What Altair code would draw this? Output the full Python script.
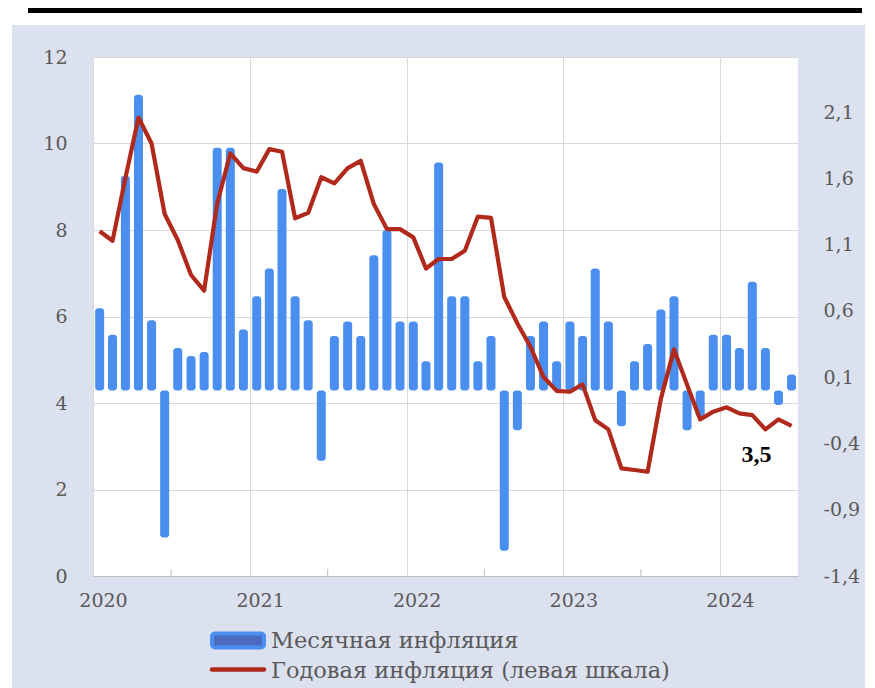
import altair as alt
import pandas as pd

# ---------------- data ----------------
years = [2020, 2021, 2022, 2023, 2024]

# monthly inflation, % m/m (right axis), Jan 2020 .. Jun 2024
monthly = [0.62, 0.42, 1.62, 2.23, 0.53, -1.11, 0.32, 0.26, 0.29, 1.83, 1.83, 0.46,
           0.71, 0.92, 1.52, 0.71, 0.53, -0.53, 0.41, 0.52, 0.41, 1.02, 1.21, 0.52,
           0.52, 0.22, 1.72, 0.71, 0.71, 0.22, 0.41, -1.21, -0.30, 0.41, 0.52, 0.22,
           0.52, 0.41, 0.92, 0.52, -0.27, 0.22, 0.35, 0.61, 0.71, -0.30, -0.20, 0.42,
           0.42, 0.32, 0.82, 0.32, -0.11, 0.12]

# annual inflation, % y/y (left axis)
annual = [7.97, 7.75, 9.2, 10.6, 10.0, 8.37, 7.77, 6.96, 6.6, 8.62, 9.77, 9.43,
          9.35, 9.87, 9.81, 8.27, 8.4, 9.22, 9.08, 9.43, 9.6, 8.6, 8.02, 8.02,
          7.83, 7.11, 7.33, 7.33, 7.52, 8.31, 8.28, 6.45, 5.84, 5.3, 4.6, 4.28,
          4.26, 4.43, 3.6, 3.39, 2.49, 2.45, 2.41, 4.1, 5.24, 4.42, 3.62, 3.8,
          3.9, 3.76, 3.72, 3.39, 3.62, 3.47]

legend_labels = ["Месячная инфляция", "Годовая инфляция (левая шкала)"]
left_ticks = [0, 2, 4, 6, 8, 10, 12]
right_ticks = [-1.4, -0.9, -0.4, 0.1, 0.6, 1.1, 1.6, 2.1]
left_domain = [0, 12]
right_domain = [-1.4, 2.515]

# ---------------- build tables ----------------
def ms(ts):
    return int(pd.Timestamp(ts).value // 10**6)

starts = pd.date_range("2020-01-01", periods=len(monthly) + 1, freq="MS", tz="UTC")
centers = starts[:-1] + (starts[1:] - starts[:-1]) / 2
df = pd.DataFrame({"t": [ms(c) for c in centers], "m": monthly, "a": annual})
last = df.tail(1).copy()
last["lbl"] = [f"{v:.1f}".replace(".", ",") for v in last["a"]]

year_starts = [ms(pd.Timestamp(f"{y}-01-01", tz="UTC")) for y in years]
mid_years = pd.DataFrame({"t": [ms(pd.Timestamp(f"{y}-07-01", tz="UTC")) for y in years[:-1]]})
x_domain = [ms(starts[0]), ms(pd.Timestamp("2024-07-01", tz="UTC"))]

AX_FONT = "DejaVu Serif"
GREY = "#595959"
GRID = "#d9d9d9"
BAR = "#4a8eef"
RED = "#b0291a"

x_scale = alt.Scale(type="utc", domain=x_domain, nice=False, padding=0)
x_axis = alt.Axis(values=year_starts, labelExpr="utcFormat(datum.value, '%Y')",
                  grid=True, gridColor=GRID, ticks=False, domainColor="#bfbfbf",
                  labelFlush=False, labelOverlap=False, labelOffset=10, labelPadding=15,
                  labelFont=AX_FONT, labelFontSize=19, labelColor=GREY, title=None)
x_enc = alt.X("t:T", scale=x_scale, axis=x_axis)

left_axis = alt.Axis(orient="left", values=left_ticks, grid=True, gridColor=GRID,
                     ticks=False, domain=False, labelPadding=26, labelFont=AX_FONT,
                     labelFontSize=19, labelColor=GREY, title=None)
right_axis = alt.Axis(orient="right", values=right_ticks, grid=False, ticks=False,
                      domain=False, labelPadding=25, labelFont=AX_FONT, labelFontSize=19,
                      labelColor=GREY, title=None,
                      labelExpr="replace(toString(datum.value), '.', ',')")

bars = alt.Chart(df).mark_bar(size=9, cornerRadius=3, color=BAR).encode(
    x=x_enc,
    y=alt.Y("m:Q", scale=alt.Scale(domain=right_domain, nice=False, zero=False), axis=right_axis),
    y2=alt.datum(0),
)

line = alt.Chart(df).mark_line(color=RED, strokeWidth=4.2, strokeJoin="round").encode(
    x=x_enc,
    y=alt.Y("a:Q", scale=alt.Scale(domain=left_domain, nice=False), axis=left_axis),
)
note = alt.Chart(last).mark_text(font="Liberation Serif", fontSize=24, fontWeight="bold",
                                 color="black", dx=-35, dy=36, align="center",
                                 baseline="alphabetic").encode(
    x=x_enc,
    y=alt.Y("a:Q", scale=alt.Scale(domain=left_domain, nice=False), axis=left_axis),
    text="lbl:N",
)
line_group = alt.layer(line, note)

# small inward ticks at mid-year on the x axis
mid_ticks = alt.Chart(mid_years).mark_rule(color="#bfbfbf", strokeWidth=1).encode(
    x=x_enc,
    y=alt.value(512), y2=alt.value(519),
)

one = pd.DataFrame({"k": [0]})
# page frame decorations (white margin strips and black top rule)
top_strip = alt.Chart(one).mark_rect(color="white").encode(
    x=alt.value(-85), x2=alt.value(774), y=alt.value(-49), y2=alt.value(-32))
left_strip = alt.Chart(one).mark_rect(color="white").encode(
    x=alt.value(-85), x2=alt.value(-81), y=alt.value(-49), y2=alt.value(631))
right_strip = alt.Chart(one).mark_rect(color="white").encode(
    x=alt.value(772), x2=alt.value(774), y=alt.value(-49), y2=alt.value(631))
top_rule = alt.Chart(one).mark_rect(color="black").encode(
    x=alt.value(-65), x2=alt.value(769), y=alt.value(-49), y2=alt.value(-44))

# legend
leg1 = pd.DataFrame({"label": [legend_labels[0]]})
leg2 = pd.DataFrame({"label": [legend_labels[1]]})
leg_sym1 = alt.Chart(leg1).mark_rect(fill="#4a6bc0", stroke=BAR, strokeWidth=4,
                                      cornerRadius=3).encode(
    x=alt.value(119), x2=alt.value(171), y=alt.value(576.5), y2=alt.value(590.5))
leg_sym2 = alt.Chart(leg2).mark_rule(color=RED, strokeWidth=4.5, strokeCap="round").encode(
    x=alt.value(119), x2=alt.value(171), y=alt.value(612.5))
leg_txt1 = alt.Chart(leg1).mark_text(font=AX_FONT, fontSize=22.5, color=GREY, align="left",
                                     baseline="alphabetic").encode(
    x=alt.value(178), y=alt.value(590.5), text="label:N")
leg_txt2 = alt.Chart(leg2).mark_text(font=AX_FONT, fontSize=22.5, color=GREY, align="left",
                                     baseline="alphabetic").encode(
    x=alt.value(178), y=alt.value(621), text="label:N")

chart = alt.layer(
    bars, line_group, mid_ticks,
    top_strip, left_strip, right_strip, top_rule,
    leg_sym1, leg_sym2, leg_txt1, leg_txt2,
).resolve_scale(y="independent").properties(
    width=705, height=519,
    autosize=alt.AutoSizeParams(type="none"),
    padding={"left": 85, "top": 49, "right": 69, "bottom": 112},
).configure(background="#dce1f0").configure_view(fill="white", strokeWidth=0)

chart.save("out.html", embed_options={"renderer": "svg", "actions": False})
